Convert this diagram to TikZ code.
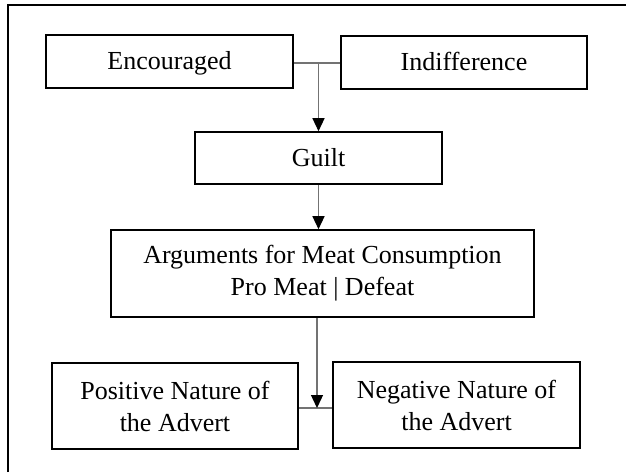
\documentclass[tikz,border=0pt]{standalone}
\usepackage{fontspec}
\setmainfont{Liberation Serif}
\usetikzlibrary{arrows.meta,calc}
\begin{document}
\begin{tikzpicture}[x=1pt,y=-1pt,
  box/.style={draw=black,line width=1.6pt,fill=white,inner sep=0pt,align=center,
    font=\fontsize{26}{32}\selectfont},
  oneline/.style={text height=20pt,text depth=4pt},
  link/.style={draw=black!55,line width=1.3pt},
  flow/.style={link,-{Triangle[length=13pt,width=12pt,color=black]}},
  frameline/.style={draw=black,line width=2.4pt}]
\useasboundingbox (0,0) rectangle (626,472);
% outer frame
\draw[frameline] (8,472) -- (8,5) -- (626,5);
% boxes
\node[box,oneline,minimum width=247pt,minimum height=53pt] (enc) at (169.5,61.5) {Encouraged};
\node[box,oneline,minimum width=246pt,minimum height=53pt] (ind) at (464,62.5) {Indifference};
\node[box,oneline,minimum width=247pt,minimum height=52pt] (guilt) at (318.5,158) {Guilt};
\node[box,minimum width=423pt,minimum height=87pt] (args) at (322.5,273.5)
  {Arguments for Meat Consumption\\Pro Meat | Defeat};
\node[box,minimum width=246pt,minimum height=86pt] (pos) at (175,406)
  {Positive Nature of\\the Advert};
\node[box,minimum width=247pt,minimum height=86pt] (neg) at (456.5,405)
  {Negative Nature of\\the Advert};
% junctions
\coordinate (j1) at (318.5,63);
\coordinate (j2) at (317,408);
% connectors
\draw[link] (enc.east |- j1) -- (ind.west |- j1);
\draw[flow] (j1) -- (guilt.north);
\draw[flow] (guilt.south) -- (args.north -| guilt.south);
\draw[link] (pos.east |- j2) -- (neg.west |- j2);
\draw[flow] (args.south -| j2) -- (j2);
\end{tikzpicture}
\end{document}
